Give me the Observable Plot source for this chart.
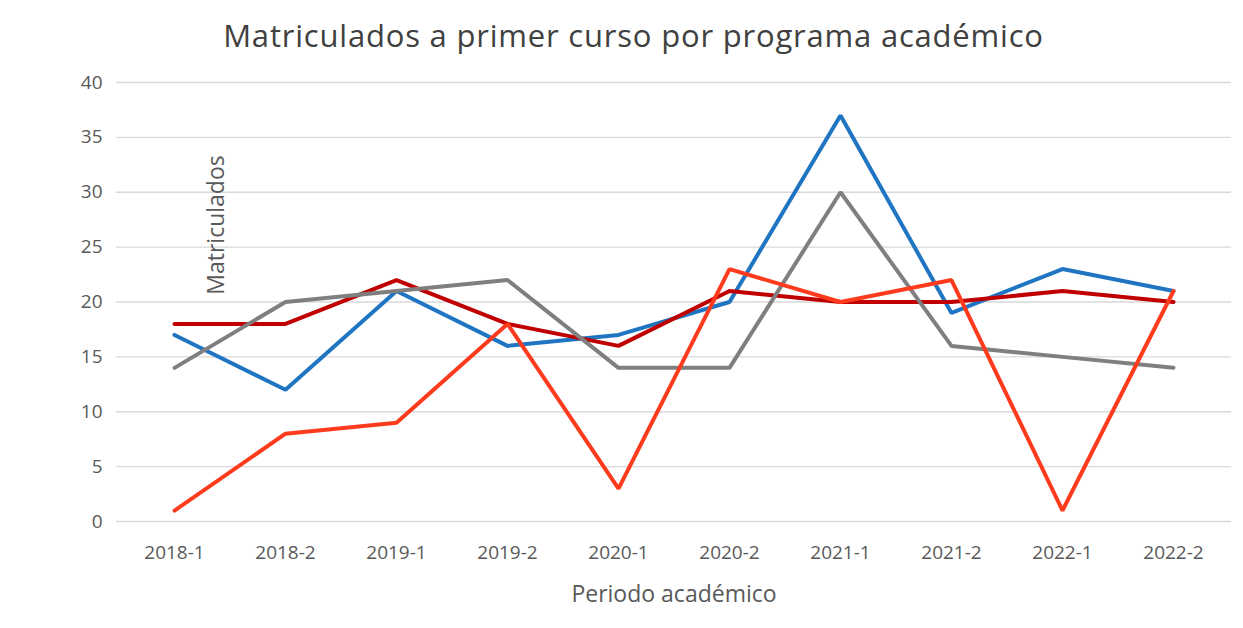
<!DOCTYPE html>
<html>
<head>
<meta charset="utf-8">
<script src="https://cdn.jsdelivr.net/npm/d3@7"></script>
<script src="https://cdn.jsdelivr.net/npm/@observablehq/plot@0.6"></script>
<style>
  body { margin: 0; background: #fff; font-family: "Open Sans", sans-serif; }
  #wrap { position: relative; width: 1243px; height: 628px; }
  #title { height: 60px; line-height: 70px; text-align: center; font-size: 31px; letter-spacing: 0.8px; color: #404040; padding-left: 24px; }
  #ylab { position: absolute; left: 215px; top: 225px; transform: translate(-50%, -50%) rotate(-90deg); font-size: 23px; color: #595959; white-space: nowrap; }
</style>
</head>
<body>
<div id="wrap">
  <div id="title">Matriculados a primer curso por programa académico</div>
  <div id="chart"></div>
  <div id="ylab">Matriculados</div>
</div>
<script>
const periods = ["2018-1","2018-2","2019-1","2019-2","2020-1","2020-2","2021-1","2021-2","2022-1","2022-2"];
const seriesNames = ["Azul","Rojo oscuro","Gris","Rojo"];
const blue    = [17, 12, 21, 16, 17, 20, 37, 19, 23, 21];
const darkRed = [18, 18, 22, 18, 16, 21, 20, 20, 21, 20];
const gray    = [14, 20, 21, 22, 14, 14, 30, 16, 15, 14];
const red     = [1, 8, 9, 18, 3, 23, 20, 22, 1, 21];
const yTicks  = [0, 5, 10, 15, 20, 25, 30, 35, 40];
const colors  = ["#1f75c2", "#c00000", "#7f7f7f", "#ff3b1e"];

const allValues = [blue, darkRed, gray, red];
const data = [];
allValues.forEach((vals, i) => vals.forEach((v, j) => data.push({serie: seriesNames[i], periodo: periods[j], valor: v})));

const chart = Plot.plot({
  width: 1243,
  height: 568,
  marginLeft: 116,
  marginRight: 12,
  marginTop: 22,
  marginBottom: 107,
  x: {type: "point", domain: periods, padding: 0.5},
  y: {domain: [0, 40]},
  color: {domain: seriesNames, range: colors},
  style: {fontFamily: "Open Sans, sans-serif", color: "#595959"},
  marks: [
    Plot.gridY(yTicks, {stroke: "#d9d9d9", strokeOpacity: 1, strokeWidth: 1.3}),
    Plot.axisY(yTicks, {tickSize: 0, tickPadding: 14, label: null, fontSize: 19, fill: "#595959"}),
    Plot.axisX({tickSize: 0, tickPadding: 24, fontSize: 19, fill: "#595959", label: "Periodo académico", labelAnchor: "center", labelArrow: "none", labelOffset: 80}),
    Plot.line(data, {x: "periodo", y: "valor", z: "serie", stroke: "serie", strokeWidth: 4, strokeLinejoin: "miter"})
  ]
});
chart.querySelectorAll("g[aria-label='x-axis label'] text").forEach(t => t.setAttribute("font-size", 23));
document.getElementById("chart").appendChild(chart);
</script>
</body>
</html>
